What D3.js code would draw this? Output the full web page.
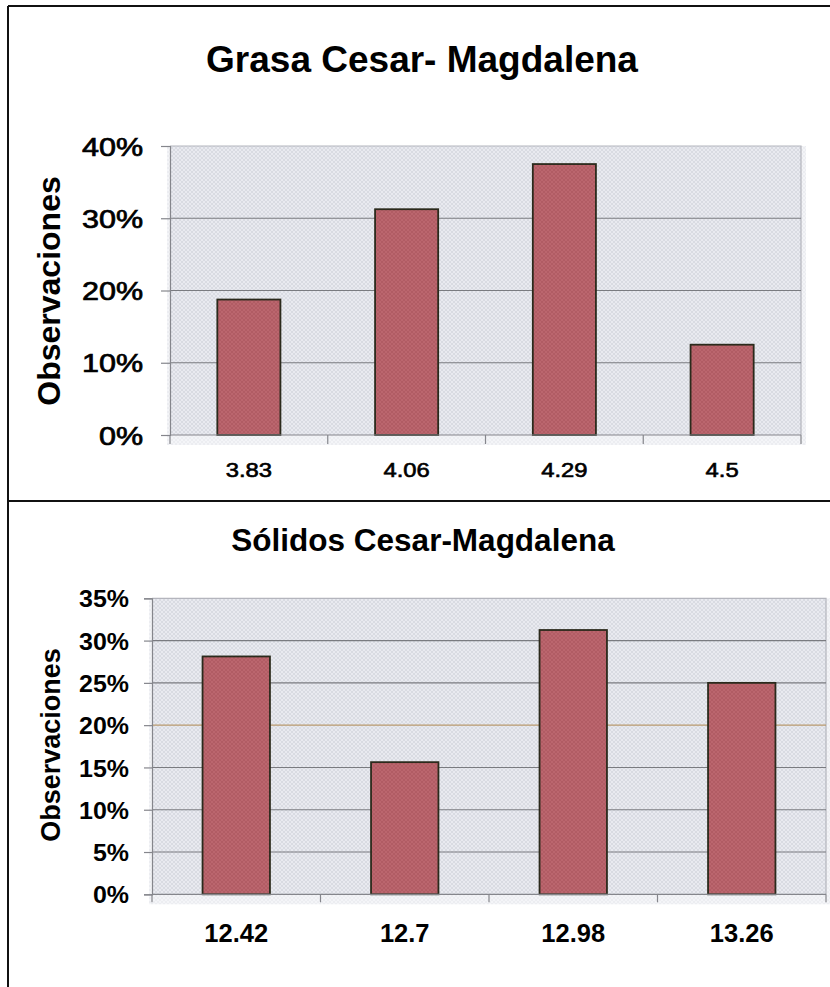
<!DOCTYPE html>
<html>
<head>
<meta charset="utf-8">
<script src="https://cdn.jsdelivr.net/npm/d3@7"></script>
<style>
  html, body { margin: 0; padding: 0; background: #fff; }
  svg { display: block; }
  text { font-family: "Liberation Sans", Arial, sans-serif; fill: #000; }
</style>
</head>
<body>
<svg id="chart" width="830" height="987"></svg>
<script>
// ---- Data ----
const grasaTitle = "Grasa Cesar- Magdalena";
const grasaCategories = ["3.83", "4.06", "4.29", "4.5"];
const grasaValues = [0.1875, 0.3125, 0.375, 0.125];
const grasaTicks = [0, 0.1, 0.2, 0.3, 0.4];

const solidosTitle = "Sólidos Cesar-Magdalena";
const solidosCategories = ["12.42", "12.7", "12.98", "13.26"];
const solidosValues = [0.28125, 0.15625, 0.3125, 0.25];
const solidosTicks = [0, 0.05, 0.1, 0.15, 0.2, 0.25, 0.3, 0.35];

const yTitle = "Observaciones";

const svg = d3.select("#chart");
const defs = svg.append("defs");

// plot area texture
const pp = defs.append("pattern").attr("id", "plotPat").attr("patternUnits", "userSpaceOnUse")
  .attr("width", 4).attr("height", 4);
pp.append("rect").attr("width", 4).attr("height", 4).attr("fill", "#e9eaf0");
pp.append("path").attr("d", "M0,0L4,4M4,0L0,4").attr("stroke", "#cfd0d9").attr("stroke-width", 0.6);

// bar texture
const bp = defs.append("pattern").attr("id", "barPat").attr("patternUnits", "userSpaceOnUse")
  .attr("width", 4).attr("height", 4);
bp.append("rect").attr("width", 4).attr("height", 4).attr("fill", "#bb666e");
bp.append("path").attr("d", "M0,0L4,4M4,0L0,4").attr("stroke", "#a9565e").attr("stroke-width", 0.6);

// frame lines
svg.append("line").attr("x1", 8).attr("x2", 8).attr("y1", 6).attr("y2", 987).attr("stroke", "#111").attr("stroke-width", 2);
svg.append("line").attr("x1", 8).attr("x2", 830).attr("y1", 6).attr("y2", 6).attr("stroke", "#111").attr("stroke-width", 2);
svg.append("line").attr("x1", 8).attr("x2", 830).attr("y1", 501).attr("y2", 501).attr("stroke", "#111").attr("stroke-width", 2);

function stretch(sel, f) {
  sel.each(function () {
    const w = this.getComputedTextLength();
    d3.select(this).attr("textLength", w * f).attr("lengthAdjust", "spacingAndGlyphs");
  });
}

function drawChart(cfg) {
  const g = svg.append("g");
  const x = d3.scaleBand().domain(cfg.categories).range([cfg.left, cfg.right])
    .paddingInner(0.6).paddingOuter(0.3);
  const y = d3.scaleLinear().domain([0, cfg.max]).range([cfg.bottom, cfg.top]);
  const step = x.step();

  // plot background (with slight scan overflow)
  g.append("rect").attr("x", cfg.left - 3).attr("y", cfg.top)
    .attr("width", cfg.right - cfg.left + 8).attr("height", cfg.bottom - cfg.top + 10)
    .attr("fill", "url(#plotPat)").attr("opacity", 0.5);
  g.append("rect").attr("x", cfg.left).attr("y", cfg.top)
    .attr("width", cfg.right - cfg.left).attr("height", cfg.bottom - cfg.top)
    .attr("fill", "url(#plotPat)");
  // border top/right
  g.append("path").attr("d", `M${cfg.left},${cfg.top}H${cfg.right}V${cfg.bottom}`)
    .attr("fill", "none").attr("stroke", "#b4b5bd").attr("stroke-width", 1.2);

  // gridlines
  g.selectAll(".grid").data(cfg.ticks.filter(t => t > 0 && t < cfg.max)).join("line")
    .attr("x1", cfg.left).attr("x2", cfg.right)
    .attr("y1", d => y(d)).attr("y2", d => y(d))
    .attr("stroke", d => (cfg.accentTick !== undefined && Math.abs(d - cfg.accentTick) < 1e-9) ? "#b99a6e" : "#7a7b80")
    .attr("stroke-width", 1.1);

  // bars
  g.selectAll(".bar").data(cfg.values).join("rect")
    .attr("x", (d, i) => x(cfg.categories[i]))
    .attr("y", d => y(d))
    .attr("width", x.bandwidth())
    .attr("height", d => y(0) - y(d))
    .attr("fill", "url(#barPat)")
    .attr("stroke", "#2b2a1c").attr("stroke-width", 1.8);

  // y axis
  const ya = g.append("g").attr("transform", `translate(${cfg.left},0)`)
    .call(d3.axisLeft(y).tickValues(cfg.ticks).tickFormat(d3.format(".0%"))
      .tickSize(cfg.tickLen).tickPadding(cfg.yPad));
  ya.select(".domain").attr("stroke", "#85868c").attr("stroke-width", 1.2);
  ya.selectAll(".tick line").attr("stroke", "#85868c").attr("stroke-width", 1.2);
  ya.selectAll(".tick text")
    .attr("font-size", cfg.yFont).attr("font-weight", cfg.tickBold ? "bold" : "normal")
    .attr("font-family", '"Liberation Sans", Arial, sans-serif')
    .attr("fill", "#000")
    .attr("stroke", cfg.tickBold ? "none" : "#000").attr("stroke-width", cfg.tickBold ? 0 : 0.7)
    .attr("dy", "0.36em")
    .call(stretch, cfg.yStretch);

  // x axis line
  g.append("line").attr("x1", cfg.left).attr("x2", cfg.right)
    .attr("y1", y(0)).attr("y2", y(0)).attr("stroke", "#85868c").attr("stroke-width", 1.2);
  // boundary ticks
  const bounds = cfg.categories.map(c => x(c) + x.bandwidth() / 2 - step / 2);
  bounds.push(x(cfg.categories[cfg.categories.length - 1]) + x.bandwidth() / 2 + step / 2);
  g.selectAll(".xt").data(bounds).join("line")
    .attr("x1", d => d).attr("x2", d => d)
    .attr("y1", y(0)).attr("y2", y(0) + cfg.tickLen)
    .attr("stroke", "#85868c").attr("stroke-width", 1.2);
  // x labels
  g.selectAll(".xl").data(cfg.categories).join("text")
    .attr("x", d => x(d) + x.bandwidth() / 2)
    .attr("y", y(0) + cfg.xLabelOffset)
    .attr("text-anchor", "middle")
    .attr("font-size", cfg.xFont).attr("font-weight", cfg.tickBold ? "bold" : "normal")
    .attr("stroke", cfg.tickBold ? "none" : "#000").attr("stroke-width", cfg.tickBold ? 0 : 0.6)
    .text(d => d)
    .call(stretch, cfg.xStretch);

  // title
  g.append("text").attr("x", cfg.titleX).attr("y", cfg.titleY)
    .attr("text-anchor", "middle").attr("font-size", cfg.titleFont).attr("font-weight", "bold")
    .text(cfg.title);
  // y title
  g.append("text").attr("transform", `translate(${cfg.yTitleX},${cfg.yTitleY}) rotate(-90)`)
    .attr("text-anchor", "middle").attr("font-size", cfg.yTitleFont).attr("font-weight", "bold")
    .text(yTitle);
}

drawChart({
  title: grasaTitle, categories: grasaCategories, values: grasaValues, ticks: grasaTicks, max: 0.4,
  left: 170, right: 801, top: 146, bottom: 435,
  tickLen: 9, yPad: 18, yFont: 25, yStretch: 1.22, tickBold: false,
  xFont: 19.5, xStretch: 1.22, xLabelOffset: 42,
  titleX: 422, titleY: 72, titleFont: 37,
  yTitleX: 60, yTitleY: 291, yTitleFont: 32
});

drawChart({
  title: solidosTitle, categories: solidosCategories, values: solidosValues, ticks: solidosTicks, max: 0.35,
  left: 152, right: 826, top: 598.3, bottom: 894.3,
  tickLen: 8, yPad: 15, yFont: 24, yStretch: 1.04, tickBold: true,
  xFont: 25.5, xStretch: 1.0, xLabelOffset: 47.5,
  titleX: 423, titleY: 551, titleFont: 31.5,
  yTitleX: 60, yTitleY: 745, yTitleFont: 27,
  accentTick: 0.2
});
</script>
</body>
</html>
